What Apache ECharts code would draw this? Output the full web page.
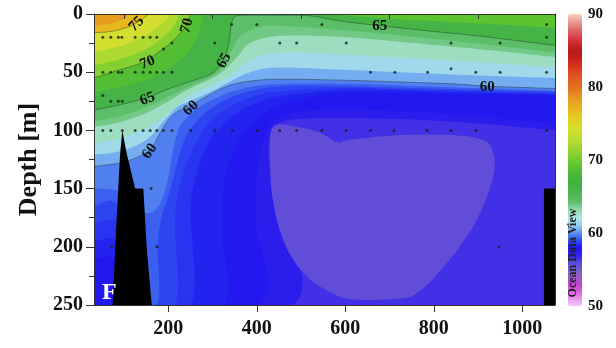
<!DOCTYPE html>
<html><head><meta charset="utf-8">
<script src="https://cdn.jsdelivr.net/npm/echarts@6/dist/echarts.min.js"></script>
<style>html,body{margin:0;padding:0;background:#fff}#c{width:616px;height:348px}</style>
</head><body><div id="c"></div>
<script>
// ---------- axis ticks ----------
const xMajorTicks = [200, 400, 600, 800, 1000];
const xMinorTicks = [100, 300, 500, 700, 900];
const X_MIN = 32, X_MAX = 1074, D_MAX = 250;

// ---------- isolines [distance, depth] read from the section ----------
const floorLine = [[32,250],[1074,250]];
const iso57  = [[32,250],[482,250],[432,140],[428,110],[445,96],[500,90],[700,90],[900,94],[1074,100]];
const iso575 = [[32,250],[400,250],[398,180],[400,140],[410,115],[430,95],[470,86],[550,82],[700,83],[900,88],[1074,94]];
const iso58  = [[32,210],[90,212],[110,250],[322,250],[320,190],[325,150],[340,125],[365,105],[400,90],[450,78],[520,71],[610,67],[840,68.5],[1074,70]];
const iso583 = [[32,195],[90,197],[110,250],[250,250],[250,170],[262,140],[285,115],[315,98],[360,84],[410,75],[460,70],[610,65],[840,67],[1074,69]];
const iso587 = [[32,180],[90,182],[110,250],[215,250],[215,180],[225,150],[245,125],[270,105],[300,90],[350,77],[400,70],[460,66],[610,63.5],[840,66],[1074,68]];
const iso59  = [[32,165],[90,167],[110,250],[175,250],[176,200],[185,175],[205,150],[222,125],[240,105],[265,92],[300,80],[350,70],[400,65],[460,62],[610,62],[840,64.5],[1074,67]];
const iso595 = [[32,150],[90,152],[120,160],[146,170],[165,170],[185,160],[200,140],[210,118],[222,100],[240,90],[270,80],[320,70],[380,63],[460,60],[610,60],[840,63],[1074,66]];
const iso60  = [[32,131],[90,128],[130,123],[160,116],[180,103],[200,91],[220,84],[250,79],[290,70],[340,61],[400,57],[460,56],[610,57],[840,60],[920,62],[1074,64]];
const iso61  = [[32,121],[90,118],[151,108],[190,92],[220,80],[249,75],[300,66],[340,58],[385,50],[450,46],[600,48],[840,52],[1074,55]];
const iso62  = [[32,111],[90,107],[151,98],[200,85],[249,70],[300,61],[340,53],[385,40],[450,33],[600,35],[840,40],[1074,46]];
const iso635 = [[32,97],[90,93],[151,85],[200,75],[249,64],[300,55],[330,47],[360,35],[385,25],[450,19],[600,20],[840,28],[1074,37]];
const iso64  = [[32,92],[90,88],[151,80],[200,71],[249,62],[300,53],[325,44],[345,30],[365,18],[400,12],[450,10],[600,14],[840,23],[1074,33]];
const iso65  = [[32,82.5],[90,78],[151,72],[196,65],[249,58],[294,52],[315,45],[330,35],[338,22],[343,8],[352,2],[380,1],[450,1],[520,1.5],[588,6],[677,10],[800,15],[904,19],[1074,27]];
const iso675 = [[32,68],[90,63],[150,57],[200,47],[240,35],[265,20],[275,8],[280,0]];
const isoTopRight = [[560,0],[700,4],[900,8],[1074,12]];
const iso70  = [[32,55],[90,48],[140,42],[170,35],[205,25],[235,13],[245,5],[250,0]];
const iso715 = [[32,44],[90,39],[140,32],[175,24],[210,12],[225,0]];
const iso73  = [[32,32],[90,28],[140,20],[170,13],[195,5],[205,0]];
const iso75  = [[32,16],[70,15],[110,11],[135,6],[150,2],[156,0]];
const iso77  = [[32,10],[70,8],[100,4],[115,0]];
// closed low-value core
const coreRing = [[437,97],[430,106],[430,125],[434,154],[452,186],[482,211],[520,228],[572,240],[611,245],[701,245],[762,240],[836,211],[897,177],[934,140],[934,119],[911,108],[836,104],[724,104],[611,108],[581,110],[536,101],[460,95]];

// value of the field above each isoline (painted in this order)
const bandPaths  = [floorLine, iso57, iso575, iso58, iso583, iso587, iso59, iso595, iso60, iso61, iso62, iso635, iso64, iso65, iso675, isoTopRight, iso70, iso715, iso73, iso75, iso77];
const bandValues = [56.6, 57.3, 57.9, 58.2, 58.5, 58.8, 59.25, 59.75, 60.5, 61.5, 62.8, 63.8, 64.5, 66.2, 68.6, 69.2, 70.7, 72.3, 74.3, 76.8, 78.3];
const coreValue = 55.7;

// contour lines drawn and labelled
const drawnContours = [iso60, iso65, iso70, iso75];
const labelPos   = [[128,8.6],[242,10],[153,41.7],[153,73],[326,40],[678,10],[158,118],[251,81],[921,62.4]];
const labelTexts = ['75','70','70','65','65','65','60','60','60'];
const labelAngles = [45, 75, 22, 20, 62, 0, 55, 45, 0];

// bathymetry
const seamount = [[74,250],[83,177],[91,120],[96,100],[106,120],[125,150],[143.5,150],[151,200],[162.5,250]];
const rightWall = [[1049,150],[1074,150],[1074,250],[1049,250]];

// sample positions: depth -> distances
const sampleDepths = [9, 20, 25, 30, 47, 50, 70, 75, 100, 150, 200];
const sampleDist = [
  [343,400,547,1055],
  [52,70,87,95,125,143,159,174,1055],
  [208,305,452,490,602,839,950],
  [189],
  [839],
  [52,70,87,95,125,143,159,174,189,208,657,712,786,895,950,1055],
  [52],
  [70,87,96],
  [52,70,96,125,143,159,174,189,208,251,305,345,400,452,490,547,602,657,710,785,839,895,1055],
  [161],
  [72,174,947]
];

// ODV-like palette, 50..90 in steps of 1
const odvColors = ['#f0c8f8','#e898ec','#d860dc','#c040d0','#9860c8','#7458d0','#5a48dc','#3020ec','#2018f0','#3050f0',
  '#5a90f0','#90ccf0','#b0e8e4','#98dcb8','#68c478','#50b858','#48b448','#40b040','#48b838','#58c230',
  '#70cc30','#8cd230','#a8d830','#bcdc30','#d0e030','#dcd828','#e4c820','#e8b420','#e8a420','#e68a20',
  '#e27020','#e06020','#dc4820','#d83020','#c02018','#b81a1a','#d02830','#d84850','#e07070','#eca098','#f8d0c0'];

const FONT = '"Liberation Serif","Times New Roman",serif';

const bandData = bandValues.map((v, i) => [i, v]).concat([[bandPaths.length, coreValue]]);
const samples = [];
sampleDepths.forEach((d, i) => sampleDist[i].forEach(x => samples.push([x, d])));

const chart = echarts.init(document.getElementById('c'), null, {renderer: 'canvas', width: 616, height: 348});

// smooth (Catmull-Rom style) svg path through pixel points
function smoothPath(pts, closed) {
  const n = pts.length;
  const get = i => closed ? pts[(i + n) % n] : pts[Math.max(0, Math.min(n - 1, i))];
  let d = 'M' + pts[0][0] + ',' + pts[0][1];
  const segs = closed ? n : n - 1;
  for (let i = 0; i < segs; i++) {
    const p0 = get(i - 1), p1 = get(i), p2 = get(i + 1), p3 = get(i + 2);
    const c1x = p1[0] + (p2[0] - p0[0]) / 6, c1y = p1[1] + (p2[1] - p0[1]) / 6;
    const c2x = p2[0] - (p3[0] - p1[0]) / 6, c2y = p2[1] - (p3[1] - p1[1]) / 6;
    d += ' C' + c1x + ',' + c1y + ' ' + c2x + ',' + c2y + ' ' + p2[0] + ',' + p2[1];
  }
  return d;
}

function renderBand(params, api) {
  const i = api.value(0);
  let d;
  if (i < bandPaths.length) {
    const px = bandPaths[i].map(p => api.coord(p));
    const c1 = api.coord([X_MAX, 0]), c2 = api.coord([X_MIN, 0]);
    d = smoothPath(px, false) + ' L' + c1[0] + ',' + (c1[1] - 2) + ' L' + c2[0] + ',' + (c2[1] - 2) + ' Z';
  } else {
    d = smoothPath(coreRing.map(p => api.coord(p)), true) + ' Z';
  }
  return {type: 'path', shape: {pathData: d}, style: {fill: api.visual('color')}};
}
function renderContour(params, api) {
  const c = drawnContours[params.dataIndex];
  return {type: 'path', shape: {pathData: smoothPath(c.map(p => api.coord(p)), false)},
          style: {fill: null, stroke: 'rgba(30,50,30,0.55)', lineWidth: 0.8}};
}
function renderBathy(params, api) {
  const poly = params.dataIndex === 0 ? seamount : rightWall;
  return {type: 'polygon', shape: {points: poly.map(p => api.coord(p))}, style: {fill: '#000'}};
}
function renderLabel(params, api) {
  const i = params.dataIndex;
  const p = api.coord([api.value(0), api.value(1)]);
  return {type: 'text', x: p[0], y: p[1], rotation: labelAngles[i] * Math.PI / 180,
          style: {text: labelTexts[i], fill: '#111', font: 'bold 15px ' + FONT, align: 'center', verticalAlign: 'middle'}};
}

const axisCol = '#333';
chart.setOption({
  animation: false,
  grid: [{left: 94, top: 14, width: 461, height: 291, show: false},
         {left: 568, top: 14, width: 14, height: 292, show: false}],
  xAxis: [
    {gridIndex: 0, type: 'value', min: X_MIN, max: X_MAX, position: 'bottom', z: 10,
     axisLine: {show: true, onZero: false, lineStyle: {color: axisCol, width: 1}},
     axisTick: {show: true, customValues: xMajorTicks, length: 7, lineStyle: {color: axisCol}},
     axisLabel: {customValues: xMajorTicks, formatter: v => String(v), fontFamily: FONT, fontWeight: 'bold', fontSize: 20, color: '#111', margin: 14},
     splitLine: {show: false}},
    {gridIndex: 0, type: 'value', min: X_MIN, max: X_MAX, position: 'bottom', z: 10,
     axisLine: {show: false}, axisTick: {show: true, customValues: xMinorTicks, length: 5, lineStyle: {color: axisCol}},
     axisLabel: {show: false}, splitLine: {show: false}},
    {gridIndex: 0, type: 'value', min: X_MIN, max: X_MAX, position: 'top', z: 10,
     axisLine: {show: true, onZero: false, lineStyle: {color: axisCol}}, axisTick: {show: false},
     axisLabel: {show: false}, splitLine: {show: false}},
    {gridIndex: 1, type: 'value', min: 0, max: 1, show: false}
  ],
  yAxis: [
    {gridIndex: 0, type: 'value', inverse: true, min: 0, max: D_MAX, interval: 50, z: 10,
     name: 'Depth [m]', nameLocation: 'middle', nameGap: 51, nameRotate: 90,
     nameTextStyle: {fontFamily: FONT, fontWeight: 'bold', fontSize: 26, color: '#111'},
     axisLine: {show: true, onZero: false, lineStyle: {color: axisCol}},
     axisTick: {show: true, length: 8, lineStyle: {color: axisCol}},
     minorTick: {show: true, splitNumber: 2, length: 5, lineStyle: {color: axisCol}},
     axisLabel: {fontFamily: FONT, fontWeight: 'bold', fontSize: 20, color: '#111', margin: 11},
     splitLine: {show: false}, minorSplitLine: {show: false}},
    {gridIndex: 0, type: 'value', inverse: true, min: 0, max: D_MAX, position: 'right', z: 10,
     axisLine: {show: true, onZero: false, lineStyle: {color: axisCol}}, axisTick: {show: false},
     axisLabel: {show: false}, splitLine: {show: false}},
    {gridIndex: 1, type: 'value', min: 50, max: 90, interval: 10, position: 'right',
     axisLine: {show: false}, axisTick: {show: false}, splitLine: {show: false},
     axisLabel: {fontFamily: FONT, fontWeight: 'bold', fontSize: 15, color: '#111', margin: 6}}
  ],
  visualMap: {
    type: 'continuous', min: 50, max: 90, dimension: 1, seriesIndex: 0, calculable: false,
    left: 568, top: 14, itemWidth: 14, itemHeight: 292, padding: 0, hoverLink: false,
    inRange: {color: odvColors}
  },
  series: [
    {type: 'custom', name: 'field', data: bandData, renderItem: renderBand, clip: true, silent: true, z: 1},
    {type: 'custom', name: 'contours', data: drawnContours.map((c, i) => [i, 0]), renderItem: renderContour, clip: true, silent: true, z: 3},
    {type: 'custom', name: 'bathymetry', data: [[0, 0], [1, 0]], renderItem: renderBathy, clip: true, silent: true, z: 4},
    {type: 'scatter', name: 'samples', data: samples, symbolSize: 3, silent: true, z: 5,
     itemStyle: {color: '#18221a'}},
    {type: 'custom', name: 'labels', data: labelPos, renderItem: renderLabel, silent: true, z: 6}
  ],
  graphic: [
    {type: 'text', left: 102, top: 281, z: 20,
     style: {text: 'F', fill: '#fff', font: 'bold 24px ' + FONT}},
    {type: 'text', x: 573, y: 253, rotation: Math.PI / 2, z: 20,
     style: {text: 'Ocean Data View', fill: '#222', font: 'bold 12px ' + FONT, align: 'center', verticalAlign: 'middle'}}
  ]
});
</script></body></html>
